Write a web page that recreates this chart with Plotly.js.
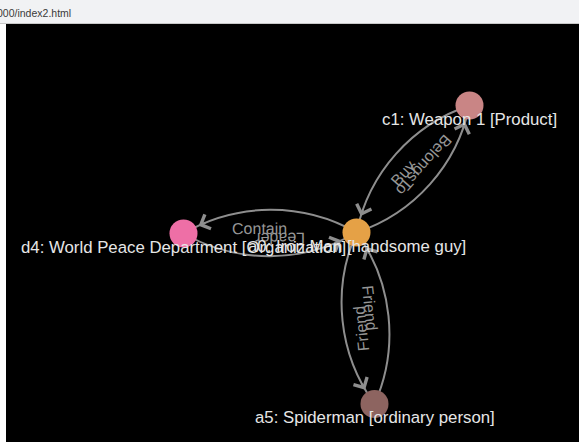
<!DOCTYPE html>
<html><head><meta charset="utf-8">
<script src="https://cdn.plot.ly/plotly-3.0.1.min.js"></script>
<style>
html,body{margin:0;padding:0;background:#fff;width:579px;height:442px;overflow:hidden;}
#bar{position:absolute;left:0;top:0;width:579px;height:23px;background:#f1f2f4;border-bottom:1px solid #c8c8c8;font-family:"Liberation Sans",Arial,sans-serif;font-size:10.5px;color:#3a3a3a;}
#bar span{position:absolute;left:-3px;top:7px;line-height:12px;white-space:nowrap;}
#chart{position:absolute;left:6px;top:24px;width:573px;height:418px;}
</style></head><body>
<div id="bar"><span>000/index2.html</span></div>
<div id="chart"></div>
<script>
// Nodes
const nodeIds = ['c1', 'a0', 'd4', 'a5'];
const nodeNames = ['Weapon 1', 'Iron Man', 'World Peace Department', 'Spiderman'];
const nodeTypes = ['Product', 'handsome guy', 'Organization', 'ordinary person'];
const nodeX = [469.5, 356.5, 183.5, 374.5];
const nodeY = [105.5, 232.5, 233.5, 404];
const nodeColors = ['#c98585', '#e5a146', '#ee6fa6', '#8d6460'];
// Edges
const edgeSource = ['a0', 'c1', 'a0', 'd4', 'a0', 'a5'];
const edgeTarget = ['c1', 'a0', 'd4', 'a0', 'a5', 'a0'];
const edgeLabels = ['BelongsTo', 'Buy', 'Contain', 'Leader', 'Friend', 'Friend'];

const EDGE_COLOR = '#8e8e8e';
const FONT = '"Liberation Sans", Arial, Helvetica, sans-serif';
const idx = id => nodeIds.indexOf(id);
const shapes = [], annotations = [];

edgeSource.forEach((s, i) => {
  const a = idx(s), b = idx(edgeTarget[i]);
  const sx = nodeX[a], sy = nodeY[a], tx = nodeX[b], ty = nodeY[b];
  const dx = tx - sx, dy = ty - sy, d = Math.hypot(dx, dy);
  const ux = dx / d, uy = dy / d;
  const nbx = -uy, nby = ux;            // bulge side
  const mx = (sx + tx) / 2, my = (sy + ty) / 2;
  const h = d * Math.sqrt(3) / 2, R = d;
  const cx = mx - nbx * h, cy = my - nby * h;
  const aS = Math.atan2(sy - cy, sx - cx);
  const aT0 = Math.atan2(ty - cy, tx - cx);
  let dA = aT0 - aS;
  while (dA > Math.PI) dA -= 2 * Math.PI;
  while (dA < -Math.PI) dA += 2 * Math.PI;
  const sg = Math.sign(dA);
  const aT = aS + dA;
  const k = 4 / 3 * Math.tan(Math.abs(dA) / 4) * R;
  const tSx = sg * -Math.sin(aS), tSy = sg * Math.cos(aS);
  const tTx = sg * -Math.sin(aT), tTy = sg * Math.cos(aT);
  const p1x = sx + k * tSx, p1y = sy + k * tSy;
  const p2x = tx - k * tTx, p2y = ty - k * tTy;
  shapes.push({
    type: 'path', xref: 'x', yref: 'y', layer: 'below',
    path: `M${sx},${sy} C${p1x},${p1y} ${p2x},${p2y} ${tx},${ty}`,
    line: {color: EDGE_COLOR, width: 2}
  });
  // arrow head near target boundary
  const dTip = 2 * Math.asin(17 / (2 * R));
  const dTail = dTip + 2 * Math.asin(9 / (2 * R));
  const aTip = aT - sg * dTip, aTail = aT - sg * dTail;
  annotations.push({
    x: cx + R * Math.cos(aTip), y: cy + R * Math.sin(aTip),
    ax: cx + R * Math.cos(aTail), ay: cy + R * Math.sin(aTail),
    xref: 'x', yref: 'y', axref: 'x', ayref: 'y',
    text: '', showarrow: true, arrowhead: 4, arrowsize: 1.5,
    arrowwidth: 2, arrowcolor: EDGE_COLOR, standoff: 0
  });
  // label: reads from target toward source
  const rx = -ux, ry = -uy;
  const upx = ry, upy = -rx;
  const ang = Math.atan2(ry, rx) * 180 / Math.PI;
  annotations.push({
    x: mx - 10 * rx + 5 * upx, y: my - 10 * ry + 5 * upy,
    xref: 'x', yref: 'y', text: edgeLabels[i], showarrow: false,
    textangle: ang, xanchor: 'center', yanchor: 'middle',
    font: {family: FONT, size: 16, color: '#969696'}
  });
});

nodeIds.forEach((id, i) => {
  annotations.push({
    x: nodeX[i], y: nodeY[i], xref: 'x', yref: 'y', yshift: -13.5,
    text: `${id}: ${nodeNames[i]} [${nodeTypes[i]}]`, showarrow: false,
    xanchor: 'center', yanchor: 'middle',
    font: {family: FONT, size: 16.8, color: '#e6e6e6'}
  });
});

const nodeTrace = {
  x: nodeX, y: nodeY, mode: 'markers', type: 'scatter', hoverinfo: 'skip',
  marker: {size: 28, color: nodeColors, line: {width: 0}}
};

Plotly.newPlot('chart', [nodeTrace], {
  width: 573, height: 418,
  margin: {l: 0, r: 0, t: 0, b: 0, pad: 0},
  paper_bgcolor: '#000', plot_bgcolor: '#000',
  showlegend: false,
  xaxis: {range: [6, 579], autorange: false, visible: false, fixedrange: true},
  yaxis: {range: [442, 24], autorange: false, visible: false, fixedrange: true},
  shapes: shapes, annotations: annotations
}, {staticPlot: true, displayModeBar: false});
</script>
</body></html>
